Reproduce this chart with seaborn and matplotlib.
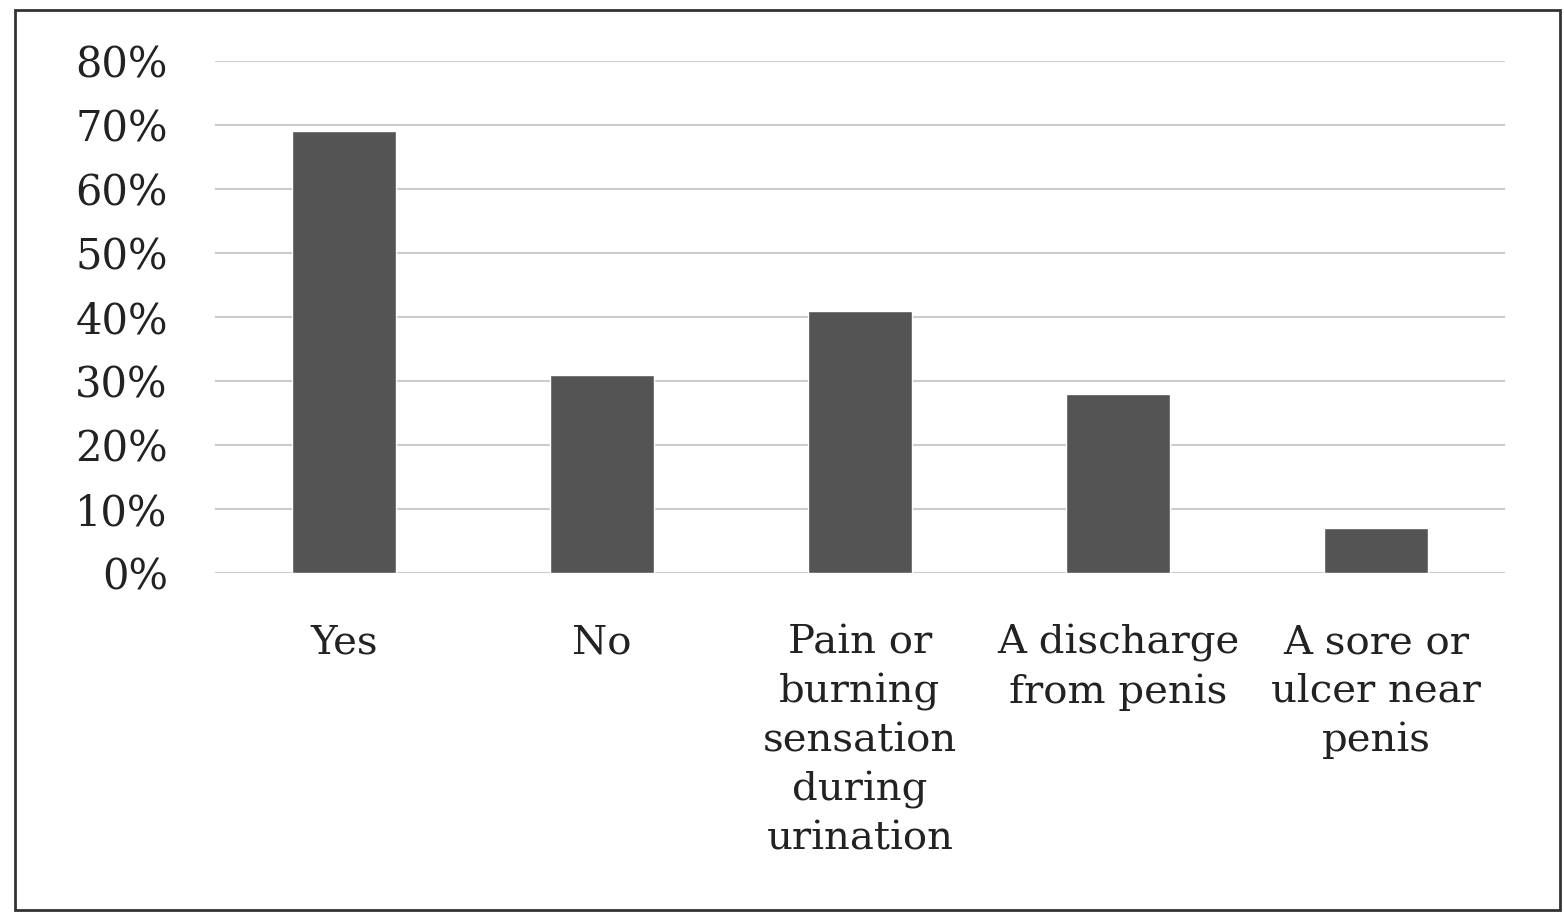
import matplotlib
matplotlib.use("Agg")
import matplotlib.pyplot as plt
import seaborn as sns
import pandas as pd
from matplotlib.ticker import PercentFormatter
from matplotlib.patches import Rectangle

categories = ["Yes", "No", "Pain or\nburning\nsensation\nduring\nurination",
              "A discharge\nfrom penis", "A sore or\nulcer near\npenis"]
values = [0.69, 0.31, 0.41, 0.28, 0.07]
yticks = [0, 0.1, 0.2, 0.3, 0.4, 0.5, 0.6, 0.7, 0.8]

sns.set_theme(style="white")
plt.rcParams['font.family'] = ['DejaVu Serif', 'Liberation Serif']

df = pd.DataFrame({"cat": categories, "val": values})
fig = plt.figure(figsize=(15.64, 9.15), dpi=100)
ax = fig.add_axes([215/1564, 1-573/915, 1290/1564, 512/915])
sns.barplot(data=df, x="cat", y="val", color="#545454", width=0.4, ax=ax,
            saturation=1, zorder=3)
ax.set_ylim(0, 0.8)
ax.set_xlim(-0.5, 4.5)
ax.set_yticks(yticks)
ax.yaxis.set_major_formatter(PercentFormatter(1.0, decimals=0))
ax.grid(axis="y", color="#cccccc", linewidth=1.5, zorder=0)
for s in ax.spines.values():
    s.set_visible(False)
ax.set_xlabel("")
ax.set_ylabel("")
ax.tick_params(axis="y", labelsize=30, pad=34, length=0)
ax.tick_params(axis="x", labelsize=29, pad=37, length=0)
for lbl in ax.get_yticklabels():
    lbl.set_color("#222222")
for lbl in ax.get_xticklabels():
    lbl.set_color("#222222")
    lbl.set_linespacing(1.39)
    lbl.set_verticalalignment("top")

fig.patches.append(Rectangle((15/1564, 5/915), 1545/1564, 900/915, transform=fig.transFigure,
                             fill=False, edgecolor="#333333", linewidth=2))
fig.savefig("out.png", dpi=100)
